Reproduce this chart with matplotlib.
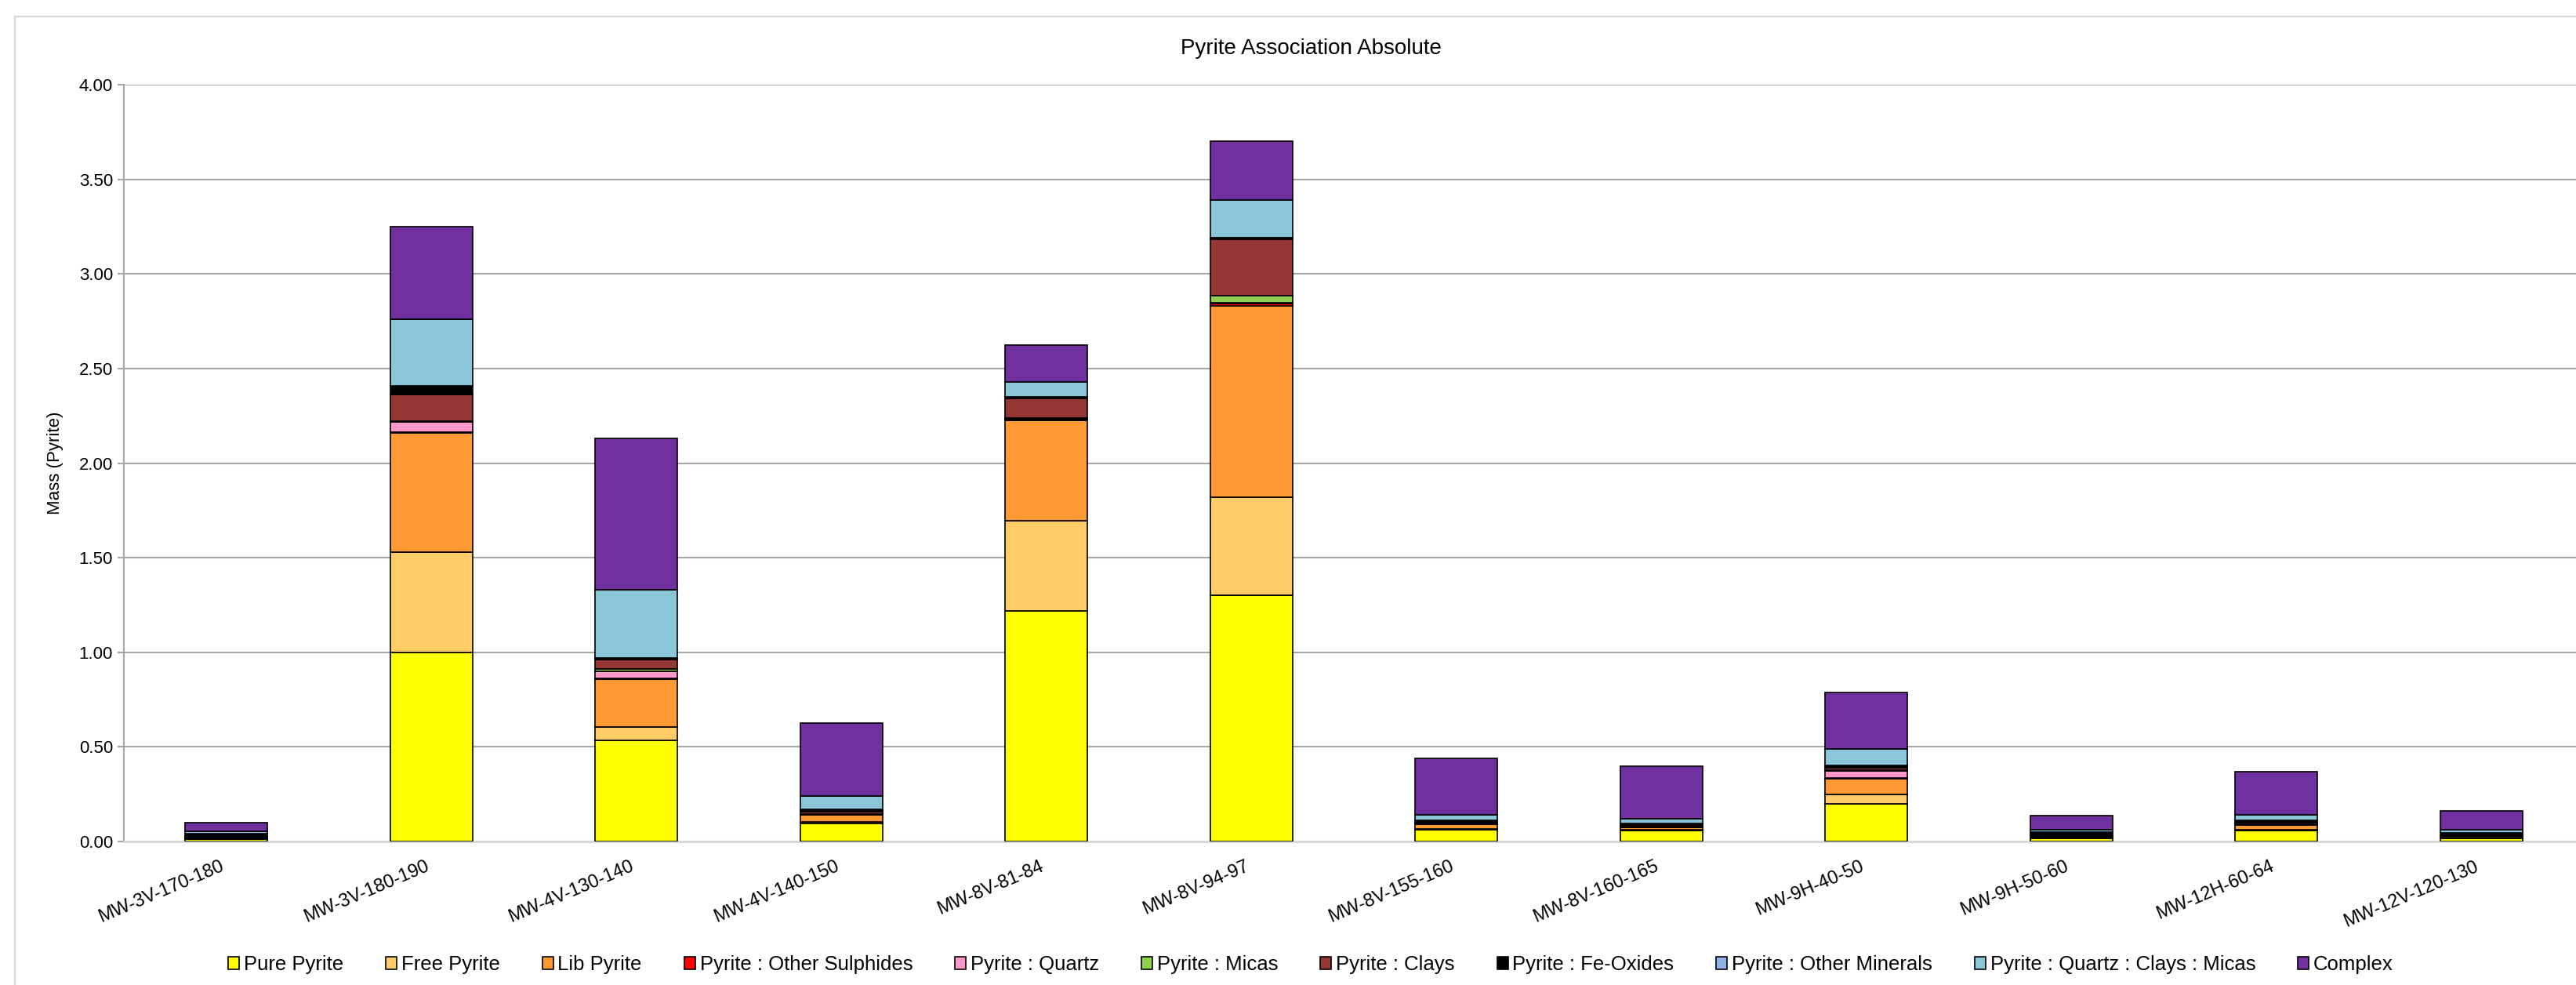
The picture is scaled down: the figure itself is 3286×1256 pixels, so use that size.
#!/usr/bin/env python3
# -*- coding: utf-8 -*-
"""
Pyrite association chart (absolute mass, stacked bars)
"""

import numpy as np
import matplotlib
matplotlib.use("Agg")
import matplotlib.pyplot as plt
from matplotlib.patches import Rectangle
from matplotlib.ticker import FormatStrFormatter

samples = ["MW-3V-170-180", "MW-3V-180-190", "MW-4V-130-140", "MW-4V-140-150",
           "MW-8V-81-84", "MW-8V-94-97", "MW-8V-155-160", "MW-8V-160-165",
           "MW-9H-40-50", "MW-9H-50-60", "MW-12H-60-64", "MW-12V-120-130"]

pure_pyrite = [0.014, 1.000, 0.533, 0.095, 1.217, 1.300, 0.062, 0.058, 0.200, 0.017, 0.056, 0.017]
free_pyrite = [0.003, 0.530, 0.073, 0.010, 0.480, 0.520, 0.004, 0.004, 0.049, 0.003, 0.006, 0.004]
lib_pyrite = [0.005, 0.630, 0.253, 0.035, 0.530, 1.010, 0.025, 0.013, 0.084, 0.006, 0.025, 0.006]
other_sulphides = [0.001, 0.003, 0.002, 0.002, 0.003, 0.015, 0.001, 0.001, 0.003, 0.001, 0.001, 0.001]
quartz = [0.001, 0.053, 0.040, 0.003, 0.005, 0.003, 0.002, 0.002, 0.036, 0.002, 0.003, 0.002]
micas = [0.001, 0.005, 0.010, 0.002, 0.005, 0.035, 0.001, 0.001, 0.004, 0.001, 0.002, 0.001]
clays = [0.004, 0.140, 0.050, 0.010, 0.100, 0.300, 0.006, 0.006, 0.015, 0.005, 0.008, 0.004]
fe_oxides = [0.012, 0.045, 0.005, 0.010, 0.008, 0.005, 0.010, 0.010, 0.008, 0.012, 0.010, 0.010]
other_minerals = [0.002, 0.003, 0.003, 0.003, 0.002, 0.002, 0.002, 0.002, 0.003, 0.003, 0.002, 0.002]
quartz_clays_micas = [0.010, 0.350, 0.360, 0.070, 0.080, 0.200, 0.027, 0.022, 0.087, 0.012, 0.030, 0.014]
complex_ = [0.045, 0.490, 0.800, 0.385, 0.195, 0.310, 0.298, 0.280, 0.300, 0.073, 0.224, 0.099]

series_names = ["Pure Pyrite", "Free Pyrite", "Lib Pyrite", "Pyrite : Other Sulphides",
                "Pyrite : Quartz", "Pyrite : Micas", "Pyrite : Clays", "Pyrite : Fe-Oxides",
                "Pyrite : Other Minerals", "Pyrite : Quartz : Clays : Micas", "Complex"]
series_values = [pure_pyrite, free_pyrite, lib_pyrite, other_sulphides, quartz, micas,
                 clays, fe_oxides, other_minerals, quartz_clays_micas, complex_]
series_colors = ["#FFFF00", "#FFCC66", "#FF9933", "#FF0000", "#FF99CC", "#92D050",
                 "#953735", "#000000", "#8DB4E2", "#8AC6D8", "#7030A0"]

plt.rcParams['font.family'] = ['Liberation Sans', 'DejaVu Sans']

W, H = 3287, 1256
fig = plt.figure(figsize=(W / 100, H / 100), dpi=100)

# outer chart border (light grey frame)
fig.patches.append(Rectangle((19 / W, -0.1), 1.2, 1 - 21 / H + 0.1, transform=fig.transFigure,
                             fill=False, edgecolor="#D9D9D9", linewidth=1.5, zorder=0))

# plot area, the right end runs a bit past the picture
ax = fig.add_axes([158 / W, (H - 1073) / H, 3138 / W, 965 / H])

x = np.arange(len(samples))
bottom = np.zeros(len(samples))
for name, vals, col in zip(series_names, series_values, series_colors):
    ax.bar(x, vals, width=0.40, bottom=bottom, color=col, edgecolor="black",
           linewidth=1.2, label=name, zorder=3)
    bottom += np.array(vals)

ax.set_xlim(-0.5, len(samples) - 0.5)
ax.set_ylim(0, 4.0)
ax.set_yticks(np.arange(0, 4.01, 0.5))
ax.yaxis.set_major_formatter(FormatStrFormatter("%.2f"))
ax.grid(axis="y", color="#A6A6A6", linewidth=1.5, zorder=0)
ax.set_axisbelow(True)

for side in ["top", "right"]:
    ax.spines[side].set_visible(False)
ax.spines["left"].set_color("#A6A6A6")
ax.spines["left"].set_linewidth(1.5)
ax.spines["bottom"].set_color("#D9D9D9")
ax.spines["bottom"].set_linewidth(2.2)

ax.tick_params(axis="y", labelsize=16, length=6, width=1.5, color="#A6A6A6", pad=4)
ax.tick_params(axis="x", labelsize=17, length=0, pad=15)
ax.set_xticks(x)
ax.set_xticklabels(samples, rotation=23, ha="right", va="top")

ax.set_ylabel("Mass (Pyrite)", fontsize=16, labelpad=14)
fig.text(1672 / W, 1 - 62 / H, "Pyrite Association Absolute", fontsize=20,
         ha="center", va="center")

fig.legend(loc="center", bbox_to_anchor=(1672 / W, 1 - 1230 / H), ncol=11,
           frameon=False, fontsize=18.5, handlelength=0.55, handleheight=0.6,
           handletextpad=0.22, columnspacing=2.1, borderaxespad=0)

fig.savefig("out.png", dpi=100)
